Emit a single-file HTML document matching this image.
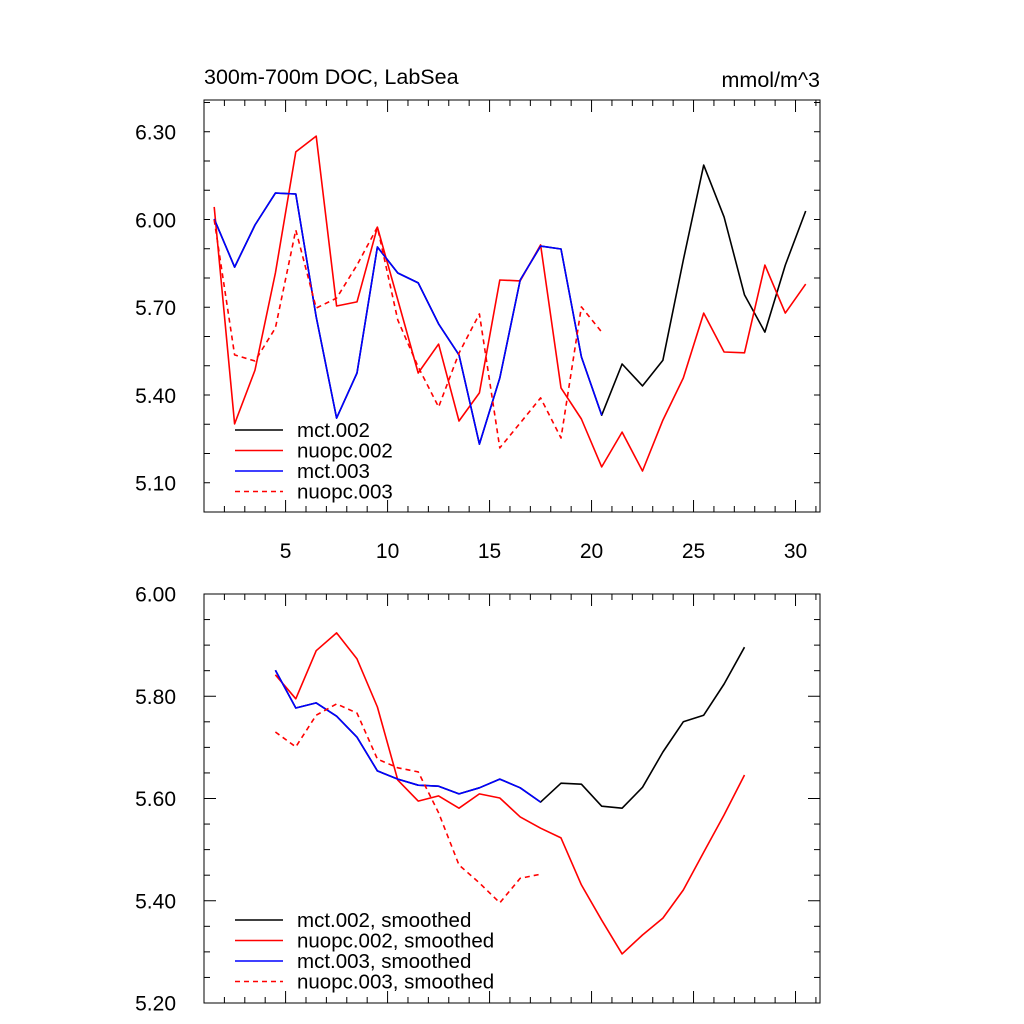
<!DOCTYPE html>
<html><head><meta charset="utf-8"><style>html,body{margin:0;padding:0;background:#fff}svg{display:block}text{font-family:"Liberation Sans",sans-serif}</style></head>
<body>
<svg id="c" width="1024" height="1024" xmlns="http://www.w3.org/2000/svg"></svg>
<script>
const topX = [1.5,2.5,3.5,4.5,5.5,6.5,7.5,8.5,9.5,10.5,11.5,12.5,13.5,14.5,15.5,16.5,17.5,18.5,19.5,20.5,21.5,22.5,23.5,24.5,25.5,26.5,27.5,28.5,29.5,30.5];
const mct002 = [6.003,5.838,5.982,6.091,6.088,5.668,5.322,5.476,5.907,5.818,5.784,5.644,5.538,5.233,5.459,5.794,5.910,5.900,5.531,5.332,5.507,5.432,5.52,5.862,6.187,6.009,5.743,5.616,5.845,6.03];
const nuopc002 = [6.044,5.302,5.486,5.818,6.232,6.286,5.705,5.719,5.975,5.726,5.476,5.575,5.312,5.408,5.794,5.791,5.914,5.425,5.319,5.155,5.274,5.141,5.315,5.459,5.681,5.548,5.545,5.845,5.681,5.780];
const mct003 = [6.003,5.838,5.982,6.091,6.088,5.668,5.322,5.476,5.907,5.818,5.784,5.644,5.538,5.233,5.459,5.794,5.910,5.900,5.531,5.332];
const nuopc003 = [6.0,5.538,5.517,5.630,5.965,5.698,5.732,5.845,5.975,5.657,5.497,5.360,5.544,5.678,5.220,5.305,5.391,5.254,5.702,5.616];
const botX = [4.5,5.5,6.5,7.5,8.5,9.5,10.5,11.5,12.5,13.5,14.5,15.5,16.5,17.5,18.5,19.5,20.5,21.5,22.5,23.5,24.5,25.5,26.5,27.5];
const mct002s = [5.851,5.777,5.787,5.761,5.720,5.654,5.638,5.626,5.624,5.609,5.621,5.638,5.621,5.593,5.630,5.628,5.585,5.581,5.622,5.691,5.750,5.763,5.824,5.896];
const nuopc002s = [5.842,5.795,5.889,5.924,5.873,5.779,5.636,5.595,5.605,5.581,5.609,5.601,5.564,5.542,5.523,5.431,5.362,5.296,5.333,5.366,5.421,5.495,5.568,5.646];
const mct003s = [5.851,5.777,5.787,5.761,5.720,5.654,5.638,5.626,5.624,5.609,5.621,5.638,5.621,5.593];
const nuopc003s = [5.730,5.701,5.763,5.785,5.767,5.677,5.660,5.652,5.572,5.470,5.435,5.396,5.444,5.452];
const xTicks = [5,10,15,20,25,30];
const topYTicks = ["5.10","5.40","5.70","6.00","6.30"];
const botYTicks = ["5.20","5.40","5.60","5.80","6.00"];
const legTop = ["mct.002","nuopc.002","mct.003","nuopc.003"];
const legBot = ["mct.002, smoothed","nuopc.002, smoothed","mct.003, smoothed","nuopc.003, smoothed"];

const svg=document.getElementById('c');
const NS='http://www.w3.org/2000/svg';
function mk(t,a,p){const e=document.createElementNS(NS,t);for(const k in a)e.setAttribute(k,a[k]);(p||svg).appendChild(e);return e;}
const L=204,R=820;
const xs=v=>L+(v-1)*(R-L)/30.2;
function panel(T,B,y0,y1,minorStep,ticks,xlabels,name){
  const g=mk('g',{});
  
  
  const ys=v=>B-(v-y0)*(B-T)/(y1-y0);
  const fr=mk('rect',{x:L,y:T,width:R-L,height:B-T,fill:'none',stroke:'#000','stroke-width':1},g);
  
  
  for(let i=1;i<=31;i++){const x=xs(i);const len=(i%5==0)?12:6;
    mk('line',{x1:x,x2:x,y1:B,y2:B-len,stroke:'#000'},g);mk('line',{x1:x,x2:x,y1:T,y2:T+len,stroke:'#000'},g);}
  for(let v=y0;v<=y1+1e-9;v+=minorStep){const y=ys(v);
    const major=ticks.some(t=>Math.abs(+t-v)<1e-6);const len=major?12:6;
    mk('line',{x1:L,x2:L+len,y1:y,y2:y,stroke:'#000'},g);mk('line',{x1:R,x2:R-len,y1:y,y2:y,stroke:'#000'},g);}
  ticks.forEach(t=>{const e=mk('text',{x:176,y:ys(+t)+7.5,'text-anchor':'end','font-size':21},g);e.textContent=t;
    
    });
  if(xlabels)xTicks.forEach(t=>{const e=mk('text',{x:xs(t),y:558,'text-anchor':'middle','font-size':21},g);e.textContent=t;
    
    });
  return {g,ys};
}
function line(p,xv,yv,color,dash,name){
  const pts=xv.slice(0,yv.length).map((x,i)=>xs(x).toFixed(1)+','+p.ys(yv[i]).toFixed(1)).join(' ');
  const e=mk('polyline',{points:pts,fill:'none',stroke:color,'stroke-width':1.6,'stroke-dasharray':dash||'none','stroke-linejoin':'round'},p.g);
  
  
}
function legend(p,labels,y0,prefix){
  const cols=['#000','#f00','#00f','#f00'];
  labels.forEach((lab,i)=>{const y=y0+i*20.5;
    const ln=mk('line',{x1:235,x2:283,y1:y,y2:y,stroke:cols[i],'stroke-width':1.6,'stroke-dasharray':i==3?'5,4':'none'},p.g);
    
    
    const t=mk('text',{x:297,y:y+7,'font-size':20.5},p.g);t.textContent=lab;
    
    });
}
const p1=panel(100,512,5.0009,6.4094,0.1,topYTicks,true,'top-panel');
line(p1,topX,mct002,'#000',null,'series-mct002');
line(p1,topX,nuopc002,'#f00',null,'series-nuopc002');
line(p1,topX,mct003,'#00f',null,'series-mct003');
line(p1,topX,nuopc003,'#f00','5,4','series-nuopc003');
legend(p1,legTop,430,'top');
const p2=panel(594,1003,5.2,6.0,0.05,botYTicks,false,'bottom-panel');
line(p2,botX,mct002s,'#000',null,'series-mct002-smoothed');
line(p2,botX,nuopc002s,'#f00',null,'series-nuopc002-smoothed');
line(p2,botX,mct003s,'#00f',null,'series-mct003-smoothed');
line(p2,botX,nuopc003s,'#f00','5,4','series-nuopc003-smoothed');
legend(p2,legBot,920,'bottom');
const t1=mk('text',{x:204,y:84,'font-size':21.5});t1.textContent='300m-700m DOC, LabSea';


const t2=mk('text',{x:820,y:87,'font-size':21.5,'text-anchor':'end'});t2.textContent='mmol/m^3';


</script>
</body></html>
